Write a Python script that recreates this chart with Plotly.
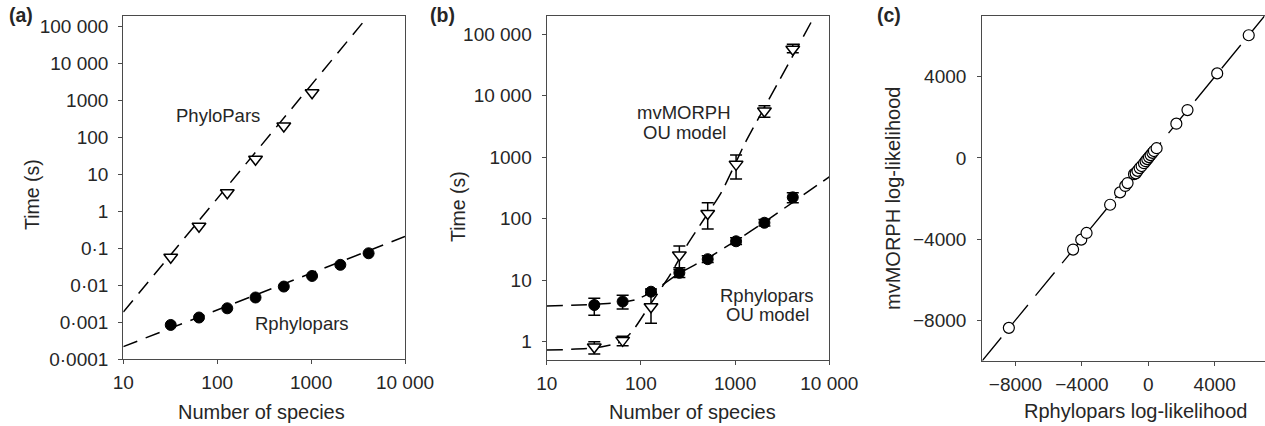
import plotly.graph_objects as go

W, H = 1265, 426

# ---------------- data ----------------
# Panel (a)
a_phylo_n = [32, 64, 128, 256, 512, 1024]
a_phylo_t = [0.058, 0.4, 3.2, 26, 205, 1640]
a_phylo_fit_n = [10, 3690]
a_phylo_fit_t = [0.0019, 145000]

a_rphy_n = [32, 64, 128, 256, 512, 1024, 2048, 4096]
a_rphy_t = [0.00085, 0.00135, 0.0024, 0.0047, 0.0093, 0.018, 0.036, 0.074]
a_rphy_fit_n = [10, 10000]
a_rphy_fit_t = [0.00022, 0.21]

# Panel (b)
b_mv_n = [32, 64, 128, 256, 512, 1024, 2048, 4096]
b_mv_t = [0.82, 1.05, 3.7, 25.7, 122, 767, 5640, 57000]
b_mv_hi = [1.0, 1.22, 6.3, 36, 182, 1087, 6900, 69000]
b_mv_lo = [0.63, 0.86, 2.0, 16, 68, 442, 4460, 50000]
b_mv_fit_n = [10, 32, 62, 83, 128, 204, 318, 720, 1270, 2770, 7050]
b_mv_fit_t = [0.73, 0.79, 1.0, 1.55, 4.2, 12.2, 40, 275, 1680, 14900, 205000]

b_rp_n = [32, 64, 128, 256, 512, 1024, 2048, 4096]
b_rp_t = [3.95, 4.5, 6.5, 13.2, 22, 43, 86, 223]
b_rp_hi = [5.1, 5.7, 7.2, 15, 25, 49, 97, 265]
b_rp_lo = [2.7, 3.4, 5.9, 11.1, 19.5, 38, 76, 182]
b_rp_fit_n = [10, 32, 64, 87, 128, 212, 256, 512, 1024, 2048, 4096, 10000]
b_rp_fit_t = [3.8, 4.05, 4.4, 4.8, 6.3, 10.7, 13, 23, 44, 88, 185, 480]

# Panel (c)
c_rphy_ll = [-8400, -4530, -4040, -3720, -2300, -1700, -1390, -1250, -860, -760,
             -650, -520, -400, -260, -160, -60, 40, 140, 250, 340, 500, 1690,
             2360, 4150, 6050]
c_mvm_ll = [-8380, -4520, -4030, -3700, -2310, -1700, -1380, -1240, -800, -760,
            -640, -500, -400, -260, -160, -60, 40, 140, 250, 340, 480, 1690,
            2360, 4170, 6050]
c_line = [-10000, 7000]

# tick labels
a_y_vals = [1e-4, 1e-3, 1e-2, 1e-1, 1, 10, 100, 1000, 1e4, 1e5]
a_y_text = ["0·0001", "0·001", "0·01", "0·1", "1", "10", "100", "1000", "10 000", "100 000"]
b_y_vals = [1, 10, 100, 1000, 1e4, 1e5]
b_y_text = ["1", "10", "100", "1000", "10 000", "100 000"]
x_log_vals = [10, 100, 1000, 10000]
x_log_text = ["10", "100", "1000", "10 000"]
c_vals = [-8000, -4000, 0, 4000]
c_text = ["−8000", "−4000", "0", "4000"]

# ---------------- styling ----------------
FONT = "Liberation Sans, Arial, sans-serif"
TXT = "#262626"
AX = "#4a4a4a"

def px_x(p):
    return p / W

def px_y(p):
    return 1 - p / H

fig = go.Figure()

# Panel (a)
fig.add_trace(go.Scatter(x=a_phylo_fit_n, y=a_phylo_fit_t, mode="lines",
                         line=dict(color="black", width=1.5, dash="15px,9px"),
                         xaxis="x", yaxis="y", showlegend=False))
fig.add_trace(go.Scatter(x=a_rphy_fit_n, y=a_rphy_fit_t, mode="lines",
                         line=dict(color="black", width=1.5, dash="15px,9px"),
                         xaxis="x", yaxis="y", showlegend=False))
fig.add_trace(go.Scatter(x=a_phylo_n, y=a_phylo_t, mode="markers",
                         marker=dict(symbol="triangle-down", size=12, color="white",
                                     line=dict(color="black", width=1.5)),
                         xaxis="x", yaxis="y", showlegend=False))
fig.add_trace(go.Scatter(x=a_rphy_n, y=a_rphy_t, mode="markers",
                         marker=dict(symbol="circle", size=11, color="black",
                                     line=dict(color="black", width=1)),
                         xaxis="x", yaxis="y", showlegend=False))

# Panel (b)
fig.add_trace(go.Scatter(x=b_mv_fit_n, y=b_mv_fit_t, mode="lines",
                         line=dict(color="black", width=1.5, dash="16px,8px",
                                   shape="spline", smoothing=0.6),
                         xaxis="x2", yaxis="y2", showlegend=False))
fig.add_trace(go.Scatter(x=b_rp_fit_n, y=b_rp_fit_t, mode="lines",
                         line=dict(color="black", width=1.5, dash="16px,8px",
                                   shape="spline", smoothing=0.6),
                         xaxis="x2", yaxis="y2", showlegend=False))
fig.add_trace(go.Scatter(
    x=b_rp_n, y=b_rp_t, mode="markers",
    marker=dict(symbol="circle", size=11, color="black", line=dict(color="black", width=1)),
    error_y=dict(type="data", symmetric=False,
                 array=[h - v for h, v in zip(b_rp_hi, b_rp_t)],
                 arrayminus=[v - l for v, l in zip(b_rp_t, b_rp_lo)],
                 color="black", thickness=1.5, width=6),
    xaxis="x2", yaxis="y2", showlegend=False))
fig.add_trace(go.Scatter(
    x=b_mv_n, y=b_mv_t, mode="markers",
    marker=dict(symbol="triangle-down", size=12, color="white",
                line=dict(color="black", width=1.5)),
    error_y=dict(type="data", symmetric=False,
                 array=[h - v for h, v in zip(b_mv_hi, b_mv_t)],
                 arrayminus=[v - l for v, l in zip(b_mv_t, b_mv_lo)],
                 color="black", thickness=1.5, width=6),
    xaxis="x2", yaxis="y2", showlegend=False))

# Panel (c)
fig.add_trace(go.Scatter(x=c_line, y=c_line, mode="lines",
                         line=dict(color="black", width=1.3, dash="30px,12px"),
                         xaxis="x3", yaxis="y3", showlegend=False))
fig.add_trace(go.Scatter(x=c_rphy_ll, y=c_mvm_ll, mode="markers",
                         marker=dict(symbol="circle", size=11, color="white",
                                     line=dict(color="black", width=1.2)),
                         xaxis="x3", yaxis="y3", showlegend=False))

def axis_common(**kw):
    d = dict(showline=True, mirror=True, linecolor=AX, linewidth=1.3,
             ticks="outside", ticklen=4, tickwidth=1.3, tickcolor=AX,
             showgrid=False, zeroline=False,
             tickfont=dict(family=FONT, size=19, color=TXT))
    d.update(kw)
    return d

ydom = [px_y(360), px_y(16)]

layout = dict(
    width=W, height=H,
    margin=dict(l=0, r=0, t=0, b=0),
    paper_bgcolor="white", plot_bgcolor="white",
    template="none",
    font=dict(family=FONT, size=19, color=TXT),
    xaxis=axis_common(domain=[px_x(123.3), px_x(405)], type="log", range=[1, 4],
                      tickmode="array", tickvals=x_log_vals, ticktext=x_log_text,
                      anchor="y", ticklabelstandoff=2),
    yaxis=axis_common(domain=[px_y(359.3), px_y(16)], type="log", range=[-4, 5.29],
                      tickmode="array", tickvals=a_y_vals, ticktext=a_y_text,
                      anchor="x", ticklabelstandoff=6),
    xaxis2=axis_common(domain=[px_x(546.7), px_x(829.3)], type="log", range=[1, 4],
                       tickmode="array", tickvals=x_log_vals, ticktext=x_log_text,
                       anchor="y2", ticklabelstandoff=2),
    yaxis2=axis_common(domain=ydom, type="log", range=[-0.298, 5.298],
                       tickmode="array", tickvals=b_y_vals, ticktext=b_y_text,
                       anchor="x2", ticklabelstandoff=6),
    xaxis3=axis_common(domain=[px_x(982.3), px_x(1264.5)], range=[-10000, 7000],
                       tickmode="array", tickvals=c_vals, ticktext=c_text,
                       anchor="y3", ticklabelstandoff=2),
    yaxis3=axis_common(domain=[px_y(360.7), px_y(16)], range=[-10000, 7000],
                       tickmode="array", tickvals=c_vals, ticktext=c_text,
                       anchor="x3", ticklabelstandoff=7),
)
fig.update_layout(**layout)

def ann(text, x, y, size=19.5, bold=False, angle=0, xanchor="center"):
    fig.add_annotation(text=f"<b>{text}</b>" if bold else text,
                       x=px_x(x), y=px_y(y), xref="paper", yref="paper",
                       showarrow=False, textangle=angle, xanchor=xanchor, yanchor="middle",
                       font=dict(family=FONT, size=size, color=TXT))

# panel labels
ann("(a)", 21, 15, bold=True)
ann("(b)", 442, 15, bold=True)
ann("(c)", 889, 15, bold=True)

# axis titles
ann("Time (s)", 32, 195, angle=-90)
ann("Number of species", 261, 412, size=20)
ann("Time (s)", 458, 207, angle=-90)
ann("Number of species", 693, 412, size=20)
ann("mvMORPH log-likelihood", 893, 199, size=20, angle=-90)
ann("Rphylopars log-likelihood", 1135, 411, size=20)

# in-plot labels
ann("PhyloPars", 218, 116, size=18.5)
ann("Rphylopars", 302, 323, size=18.5)
ann("mvMORPH", 684, 113, size=18.5)
ann("OU model", 684, 133, size=18.5)
ann("Rphylopars", 767, 295, size=18.5)
ann("OU model", 767, 314, size=18.5)

fig.write_html("out.html",
               config={"displayModeBar": False},
               post_script="document.body.style.margin='0';document.body.style.overflow='hidden';")
